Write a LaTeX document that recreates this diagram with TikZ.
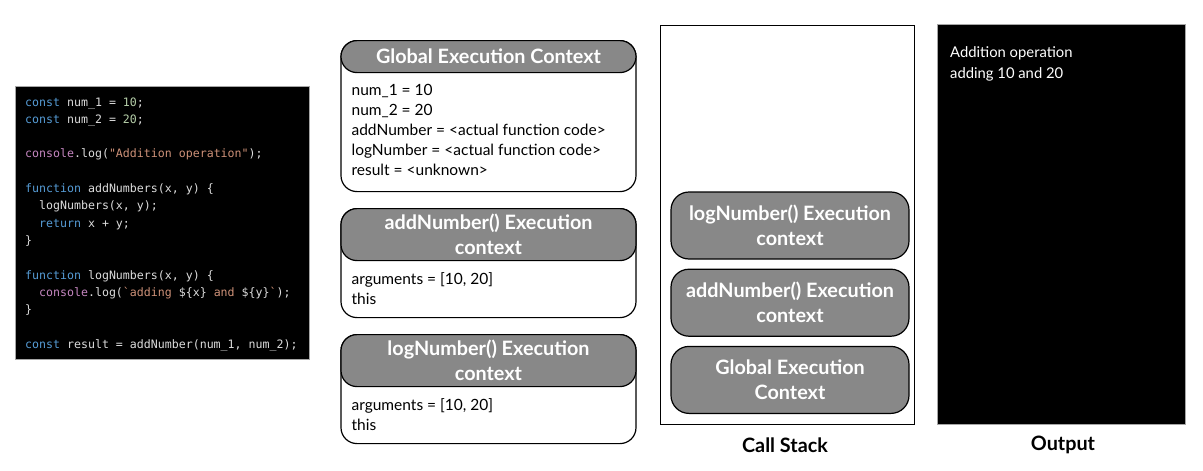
\documentclass[tikz,border=0pt]{standalone}
\usepackage{fontspec}
\setmainfont{Lato}
\setmonofont{DejaVu Sans Mono}
\usetikzlibrary{positioning}

\definecolor{kwblue}{HTML}{569CD6}
\definecolor{codetext}{HTML}{DCDCDC}
\definecolor{numgreen}{HTML}{B5CEA8}
\definecolor{conpurple}{HTML}{C586C0}
\definecolor{strbrown}{HTML}{CE9178}
\definecolor{headgray}{HTML}{888888}

\begin{document}
\begin{tikzpicture}[x=1pt,y=-1pt]
\tikzset{
  code/.style={anchor=base west, inner sep=0pt, text=codetext,
    font=\ttfamily\fontsize{11.6}{14}\selectfont},
  ctxbox/.style={draw, line width=1.2pt, rounded corners=16pt, fill=white,
    minimum width=295pt, anchor=north},
  ctxhead/.style={draw, line width=1.2pt, rounded corners=16pt, fill=headgray,
    minimum width=295pt, text=white, align=center,
    font=\bfseries\fontsize{19.8}{25}\selectfont},
  ctxtext/.style={inner sep=0pt, align=left, font=\fontsize{15.5}{20}\selectfont},
  stackitem/.style={draw, line width=1.2pt, rounded corners=18pt, fill=headgray,
    minimum width=238pt, minimum height=67pt, text=white, align=center,
    font=\bfseries\fontsize{19.8}{25}\selectfont},
  caption/.style={font=\bfseries\fontsize{19.8}{22}\selectfont}
}
\useasboundingbox (0,0) rectangle (1203,471);

% code
\node[fill=black, draw=gray!70, line width=0.8pt, inner sep=0pt, anchor=north west,
  minimum width=294pt, minimum height=273pt] (codebox) at (15,86) {};
\node[code] (c1) at (25,106) {\textcolor{kwblue}{const} num\_1 = \textcolor{numgreen}{10};};
\node[code] (c2) at (25,123.3) {\textcolor{kwblue}{const} num\_2 = \textcolor{numgreen}{20};};
\node[code] (c3) at (25,157.9) {\textcolor{conpurple}{console}.log(\textcolor{strbrown}{"Addition operation"});};
\node[code] (c4) at (25,192.5) {\textcolor{kwblue}{function} addNumbers(x, y) \{};
\node[code] (c5) at (25,209.8) {~~logNumbers(x, y);};
\node[code] (c6) at (25,227.1) {~~\textcolor{kwblue}{return} x + y;};
\node[code] (c7) at (25,244.4) {\}};
\node[code] (c8) at (25,279) {\textcolor{kwblue}{function} logNumbers(x, y) \{};
\node[code] (c9) at (25,296.3) {~~\textcolor{conpurple}{console}.log(\textcolor{strbrown}{`adding~}\$\{x\}\textcolor{strbrown}{~and~}\$\{y\}\textcolor{strbrown}{`});};
\node[code] (c10) at (25,313.6) {\}};
\node[code] (c11) at (25,348.2) {\textcolor{kwblue}{const} result = addNumber(num\_1, num\_2);};

% execution contexts
\node[ctxbox, minimum height=151pt] (gec) at (488.5,40) {};
\node[ctxhead, minimum height=32pt, below=0pt of gec.north] (gechead) {Global Execution Context};
\node[ctxtext, below right=11pt and 11pt of gechead.south west] (gecvars)
  {num\_1 = 10\\num\_2 = 20\\addNumber = <actual function code>\\logNumber = <actual function code>\\result = <unknown>};

\node[ctxbox, minimum height=109pt] (addctx) at (488.5,208) {};
\node[ctxhead, minimum height=52pt, below=0pt of addctx.north] (addhead) {addNumber() Execution\\context};
\node[ctxtext, below right=11pt and 11pt of addhead.south west] (addvars) {arguments = [10, 20]\\this};

\node[ctxbox, minimum height=109pt] (logctx) at (488.5,334) {};
\node[ctxhead, minimum height=52pt, below=0pt of logctx.north] (loghead) {logNumber() Execution\\context};
\node[ctxtext, below right=11pt and 11pt of loghead.south west] (logvars) {arguments = [10, 20]\\this};

% call stack
\node[draw, line width=1.2pt, inner sep=0pt, anchor=north west,
  minimum width=254pt, minimum height=399pt] (stack) at (660,25) {};
\node[stackitem] (stacklog) at (790,225.5) {logNumber() Execution\\context};
\node[stackitem, below=9pt of stacklog] (stackadd) {addNumber() Execution\\context};
\node[stackitem, below=9pt of stackadd] (stackgec) {Global Execution\\Context};
\node[caption] (stacklabel) at (785,445) {Call Stack};

% output
\node[fill=black, draw=gray!70, line width=0.8pt, inner sep=0pt, anchor=north west,
  minimum width=248pt, minimum height=400pt] (out) at (937,24) {};
\node[anchor=north west, inner sep=0pt, text=white, align=left,
  font=\fontsize{14.8}{21}\selectfont] (outtext) at (950,46) {Addition operation\\adding 10 and 20};
\node[caption] (outlabel) at (1063,445) {Output};
\end{tikzpicture}
\end{document}
